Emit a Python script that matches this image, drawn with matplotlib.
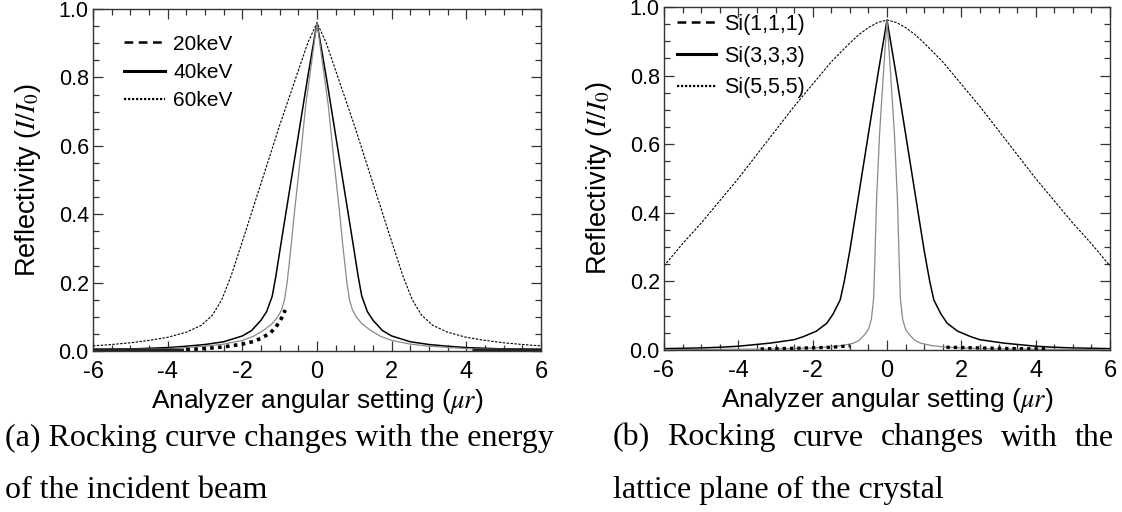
import matplotlib
matplotlib.use("Agg")
import matplotlib.pyplot as plt
from matplotlib.lines import Line2D
from matplotlib.ticker import MultipleLocator

plt.rcParams['font.family'] = ['Liberation Sans', 'DejaVu Sans']
plt.rcParams['mathtext.fontset'] = 'stix'

# ---- data ----
# (a) energy series
a_wide_x = [-6, -5.5, -5, -4.5, -4, -3.5, -3.1, -2.8, -2.55, -2.3, -2, -1.5, -1, -0.5, -0.25, 0,
            0.25, 0.5, 1, 1.5, 2, 2.3, 2.55, 2.8, 3.1, 3.5, 4, 4.5, 5, 5.5, 6]
a_wide_y = [0.015, 0.019, 0.024, 0.031, 0.040, 0.055, 0.075, 0.105, 0.15, 0.22, 0.32, 0.49, 0.66, 0.82, 0.90, 0.96,
            0.90, 0.82, 0.66, 0.49, 0.32, 0.22, 0.15, 0.105, 0.075, 0.055, 0.040, 0.031, 0.024, 0.019, 0.015]

a_mid_x = [-6, -5, -4, -3.5, -3, -2.5, -2, -1.75, -1.5, -1.35, -1.2, -1.1, -1, -0.75, -0.5, -0.25, 0,
           0.25, 0.5, 0.75, 1, 1.1, 1.2, 1.35, 1.5, 1.75, 2, 2.5, 3, 3.5, 4, 5, 6]
a_mid_y = [0.004, 0.006, 0.010, 0.014, 0.019, 0.027, 0.044, 0.06, 0.09, 0.115, 0.16, 0.22, 0.29, 0.46, 0.63, 0.80, 0.96,
           0.80, 0.63, 0.46, 0.29, 0.22, 0.16, 0.115, 0.09, 0.06, 0.044, 0.027, 0.019, 0.014, 0.010, 0.006, 0.004]

a_narrow_x = [-6, -4, -3, -2.5, -2, -1.7, -1.4, -1.2, -1.05, -0.95, -0.87, -0.8, -0.7, -0.6, -0.45, -0.3, -0.15, 0,
              0.15, 0.3, 0.45, 0.6, 0.7, 0.8, 0.87, 0.95, 1.05, 1.2, 1.4, 1.7, 2, 2.5, 3, 4, 6]
a_narrow_y = [0.003, 0.007, 0.014, 0.02, 0.031, 0.043, 0.063, 0.08, 0.10, 0.12, 0.15, 0.20, 0.30, 0.41, 0.56, 0.72, 0.84, 0.96,
              0.84, 0.72, 0.56, 0.41, 0.30, 0.20, 0.15, 0.12, 0.10, 0.08, 0.063, 0.043, 0.031, 0.02, 0.014, 0.007, 0.003]

a_dots_x = [-3.5, -3, -2.5, -2, -1.7, -1.5, -1.26, -1.1, -0.95, -0.85]
a_dots_y = [0.004, 0.007, 0.012, 0.02, 0.028, 0.037, 0.052, 0.07, 0.096, 0.12]

a_floor_lx = [-6, -3.6]
a_floor_ly = [0.004, 0.003]
a_floor_rx = [4.2, 6]
a_floor_ry = [0.003, 0.004]

# (b) lattice plane series
b_wide_x = [-6, -5.5, -5, -4.5, -4, -3.5, -3, -2.5, -2, -1.5, -1, -0.75, -0.5, -0.25, 0,
            0.25, 0.5, 0.75, 1, 1.5, 2, 2.5, 3, 3.5, 4, 4.5, 5, 5.5, 6]
b_wide_y = [0.245, 0.31, 0.37, 0.435, 0.50, 0.57, 0.64, 0.71, 0.775, 0.84, 0.895, 0.92, 0.94, 0.955, 0.962,
            0.955, 0.94, 0.92, 0.895, 0.84, 0.775, 0.71, 0.64, 0.57, 0.50, 0.435, 0.37, 0.31, 0.245]

b_mid_x = [-6, -5, -4.5, -4, -3.15, -2.5, -2.25, -1.9, -1.62, -1.45, -1.26, -1.15, -1.0, -0.75, -0.5, -0.25, 0,
           0.25, 0.5, 0.75, 1.0, 1.15, 1.26, 1.45, 1.62, 1.9, 2.25, 2.5, 3.15, 4, 4.5, 5, 6]
b_mid_y = [0.004, 0.006, 0.008, 0.011, 0.02, 0.03, 0.039, 0.055, 0.078, 0.105, 0.146, 0.20, 0.29, 0.46, 0.63, 0.80, 0.962,
           0.80, 0.63, 0.46, 0.29, 0.20, 0.146, 0.105, 0.078, 0.055, 0.039, 0.03, 0.02, 0.011, 0.008, 0.006, 0.004]

b_narrow_x = [-6, -3, -2, -1.5, -1.2, -0.9, -0.75, -0.6, -0.5, -0.42, -0.36, -0.33, -0.28, -0.2, -0.1, 0,
              0.1, 0.2, 0.28, 0.33, 0.36, 0.42, 0.5, 0.6, 0.75, 0.9, 1.2, 1.5, 2, 3, 6]
b_narrow_y = [0.001, 0.003, 0.006, 0.009, 0.013, 0.02, 0.028, 0.045, 0.06, 0.09, 0.15, 0.25, 0.44, 0.63, 0.80, 0.962,
              0.80, 0.63, 0.44, 0.25, 0.15, 0.09, 0.06, 0.045, 0.028, 0.02, 0.013, 0.009, 0.006, 0.003, 0.001]

b_dots_lx = [-3.4, -2.5, -1.5, -1.0]
b_dots_ly = [0.003, 0.005, 0.008, 0.012]
b_dots_rx = [1.6, 2.5, 3.5, 4.3]
b_dots_ry = [0.008, 0.006, 0.004, 0.003]

a_labels = ['20keV', '40keV', '60keV']
b_labels = ['Si(1,1,1)', 'Si(3,3,3)', 'Si(5,5,5)']

x_ticks = [-6, -4, -2, 0, 2, 4, 6]
y_ticks = [0.0, 0.2, 0.4, 0.6, 0.8, 1.0]

cap_a = ['(a) Rocking curve changes with the energy', 'of the incident beam']
cap_b1 = ['(b)', 'Rocking', 'curve', 'changes', 'with', 'the']
cap_b2 = 'lattice plane of the crystal'

W, H = 1122, 512
fig = plt.figure(figsize=(W / 100, H / 100), dpi=100)
ax1 = fig.add_axes([93 / W, 1 - 351 / H, 448 / W, 342 / H])
ax2 = fig.add_axes([664 / W, 1 - 350 / H, 446 / W, 343 / H])

fine_dash = (0, (2.2, 1.3))
gray = '#8a8a8a'

ax1.plot(a_wide_x, a_wide_y, color='black', lw=0.8, ls=fine_dash)
ax1.plot(a_mid_x, a_mid_y, color='black', lw=1.1)
ax1.plot(a_narrow_x, a_narrow_y, color=gray, lw=0.9)
ax1.plot(a_dots_x, a_dots_y, color='black', lw=2.6, ls=(0, (1, 1.2)))
ax1.plot(a_floor_lx, a_floor_ly, color='#222222', lw=2.0)
ax1.plot(a_floor_rx, a_floor_ry, color='#222222', lw=2.0)

ax2.plot(b_wide_x, b_wide_y, color='black', lw=0.8, ls=fine_dash)
ax2.plot(b_mid_x, b_mid_y, color='black', lw=1.1)
ax2.plot(b_narrow_x, b_narrow_y, color=gray, lw=0.9)
ax2.plot(b_dots_lx, b_dots_ly, color='black', lw=2.4, ls=(0, (1, 1.2)))
ax2.plot(b_dots_rx, b_dots_ry, color='black', lw=2.4, ls=(0, (1, 1.2)))


def legend_handles():
    return [Line2D([], [], color='black', lw=1.8, ls=(0, (3.5, 2.2))),
            Line2D([], [], color='black', lw=2.2),
            Line2D([], [], color='black', lw=1.6, ls=(0, (1, 0.8)))]


ax1.legend(legend_handles(), a_labels, loc='upper left', bbox_to_anchor=(0.07, 0.925),
           frameon=False, fontsize=15, handlelength=1.95, handletextpad=0.4,
           labelspacing=0.45, borderpad=0, borderaxespad=0)
ax2.legend(legend_handles(), b_labels, loc='upper left', bbox_to_anchor=(0.03, 0.98),
           frameon=False, fontsize=15.5, handlelength=1.8, handletextpad=0.35,
           labelspacing=0.5, borderpad=0, borderaxespad=0)

for ax in (ax1, ax2):
    ax.set_xlim(-6, 6)
    ax.set_ylim(0, 1)
    ax.set_xticks(x_ticks)
    ax.set_xticklabels([str(t) for t in x_ticks])
    ax.set_yticks(y_ticks)
    ax.set_yticklabels(['%.1f' % t for t in y_ticks])
    ax.xaxis.set_minor_locator(MultipleLocator(0.5))
    ax.yaxis.set_minor_locator(MultipleLocator(0.05))
    ax.tick_params(which='both', direction='in', top=True, right=True, width=0.9, color='#333333')
    ax.tick_params(which='major', length=7)
    ax.tick_params(which='minor', length=4)
    ax.tick_params(axis='x', labelsize=17, pad=7)
    ax.tick_params(axis='y', labelsize=15.5, pad=3)
    for s in ax.spines.values():
        s.set_linewidth(1.0)
        s.set_color('#333333')
    ax.set_xlabel(r'Analyzer angular setting ($\mu r$)', fontsize=19, labelpad=3)
    ax.set_ylabel(r'Reflectivity ($I/I_0$)', fontsize=19.5, labelpad=11)

serif = ['Liberation Serif', 'DejaVu Serif']
fig.text(5 / W, 1 - 438 / H, cap_a[0], family=serif, fontsize=23, va='center', ha='left')
fig.text(5 / W, 1 - 490 / H, cap_a[1], family=serif, fontsize=23, va='center', ha='left')

# justified first line of caption (b)
x0, x1 = 613, 1114
words = [fig.text(x0 / W, 1 - 438 / H, w, family=serif, fontsize=23, va='center', ha='left')
         for w in cap_b1]
fig.canvas.draw()
r = fig.canvas.get_renderer()
widths = [t.get_window_extent(r).width for t in words]
gap = (x1 - x0 - sum(widths)) / (len(words) - 1)
pos = x0
for t, wd in zip(words, widths):
    t.set_x(pos / W)
    pos += wd + gap
fig.text(x0 / W, 1 - 490 / H, cap_b2, family=serif, fontsize=23, va='center', ha='left')

fig.savefig('out.png', dpi=100)
